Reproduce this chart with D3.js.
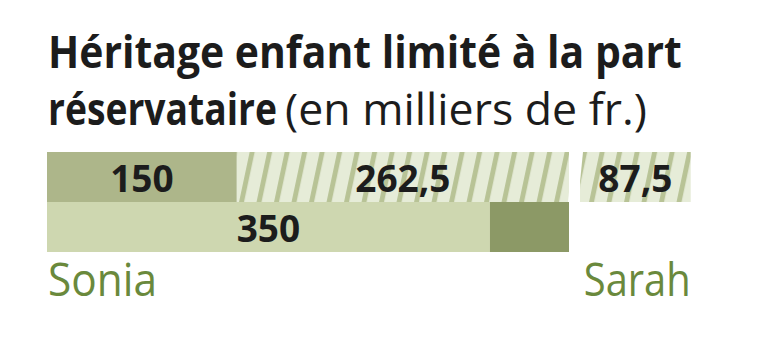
<!DOCTYPE html>
<html><head><meta charset="utf-8">
<script src="https://cdn.jsdelivr.net/npm/d3@7"></script>
<style>
html,body{margin:0;padding:0;background:#fff;}
svg{display:block;}
</style></head>
<body>
<div id="chart"></div>
<script>
// ---- data ----
const titleBold1 = "Héritage enfant limité à la part";
const titleBold2 = "réservataire";
const titleLight2 = "(en milliers de fr.)";
const rowKeys = ["part", "total"];
const topValues = [150, 262.5, 87.5];      // Sonia, Sonia (hachuré), Sarah (hachuré)
const topOwners = ["Sonia", "Sonia", "Sarah"];
const topStyles = ["solid", "hatch", "hatch"];
const bottomValues = [350, 62.5];
const bottomLabels = ["350", ""];
const names = ["Sonia", "Sarah"];

const W = 768, H = 358;
const svg = d3.select("#chart").append("svg").attr("width", W).attr("height", H);
const fmt = v => String(v).replace(".", ",");

const gap = 11;
const soniaTotal = topValues[0] + topValues[1];
const x = d3.scaleLinear().domain([0, soniaTotal]).range([47, 569]);
const y = d3.scaleBand().domain(rowKeys).range([152, 252]).padding(0);

const FONT = "'Open Sans', 'Noto Sans', sans-serif";
const colors = {
  solid: "#adb68a",
  hatchBg: "#e6ecd8",
  hatchLine: "#b8c396",
  light: "#ced7b0",
  dark: "#8c9966",
  text: "#1c1c1c",
  green: "#6a893c"
};

// hatch pattern
const defs = svg.append("defs");
const pat = defs.append("pattern")
  .attr("id", "hatch").attr("patternUnits", "userSpaceOnUse")
  .attr("width", 17.5).attr("height", 10)
  .attr("patternTransform", "skewX(-12)");
pat.append("rect").attr("width", 17.5).attr("height", 10).attr("fill", colors.hatchBg);
pat.append("rect").attr("x", 2).attr("width", 5).attr("height", 10).attr("fill", colors.hatchLine);

// condensed text: draw at natural size, then squeeze horizontally to a target width
function condensed(str, px, py, width, size, weight, fill, anchor) {
  const t = svg.append("text").attr("x", 0).attr("y", 0)
    .attr("font-family", FONT).attr("font-size", size).attr("font-weight", weight)
    .attr("fill", fill).attr("text-anchor", anchor || "start").text(str);
  const natural = t.node().getComputedTextLength();
  const k = natural > 0 ? width / natural : 1;
  t.attr("transform", `translate(${px},${py}) scale(${k},1)`);
  return t;
}

// title
condensed(titleBold1, 48, 68, 634, 44, 700, colors.text);
condensed(titleBold2, 48, 125, 229, 44, 700, colors.text);
condensed(titleLight2, 285, 125, 362, 44, 400, colors.text);

// top row segments
let acc = 0;
const topSegs = topValues.map((v, i) => {
  const s = { v, i, x0: x(acc), x1: x(acc + v) };
  acc += v;
  if (topOwners[i] === "Sarah") { s.x0 += gap; s.x1 += gap; }
  return s;
});
svg.append("g").selectAll("rect").data(topSegs).join("rect")
  .attr("x", d => d.x0).attr("width", d => d.x1 - d.x0)
  .attr("y", y("part")).attr("height", y.bandwidth())
  .attr("fill", d => topStyles[d.i] === "solid" ? colors.solid : "url(#hatch)");

// slanted white gap
const gx = x(soniaTotal);
svg.append("polygon")
  .attr("points", [[gx - 1, y("part") + y.bandwidth()], [gx + 4, y("part")], [gx + gap + 3, y("part")], [gx + gap - 2, y("part") + y.bandwidth()]].map(p => p.join(",")).join(" "))
  .attr("fill", "#fff");

svg.append("g").selectAll("text").data(topSegs).join("text")
  .attr("x", d => (d.x0 + d.x1) / 2).attr("y", y("part") + y.bandwidth() / 2 + 14.5)
  .attr("text-anchor", "middle")
  .attr("font-family", FONT).attr("font-weight", 700).attr("font-size", 37)
  .attr("fill", colors.text).text(d => fmt(d.v));

// bottom row
acc = 0;
const botSegs = bottomValues.map((v, i) => {
  const s = { v, i, x0: x(acc), x1: x(acc + v) };
  acc += v;
  return s;
});
svg.append("g").selectAll("rect").data(botSegs).join("rect")
  .attr("x", d => d.x0).attr("width", d => d.x1 - d.x0)
  .attr("y", y("total")).attr("height", y.bandwidth())
  .attr("fill", d => d.i === 0 ? colors.light : colors.dark);
svg.append("g").selectAll("text").data(botSegs.filter(d => bottomLabels[d.i])).join("text")
  .attr("x", d => (d.x0 + d.x1) / 2).attr("y", y("total") + y.bandwidth() / 2 + 14.5)
  .attr("text-anchor", "middle")
  .attr("font-family", FONT).attr("font-weight", 700).attr("font-size", 37)
  .attr("fill", colors.text).text(d => bottomLabels[d.i]);

// names
condensed(names[0], 48, 296, 109, 46, 400, colors.green, "start");
condensed(names[1], topSegs[2].x1, 296, 107, 46, 400, colors.green, "end");
</script>
</body></html>
